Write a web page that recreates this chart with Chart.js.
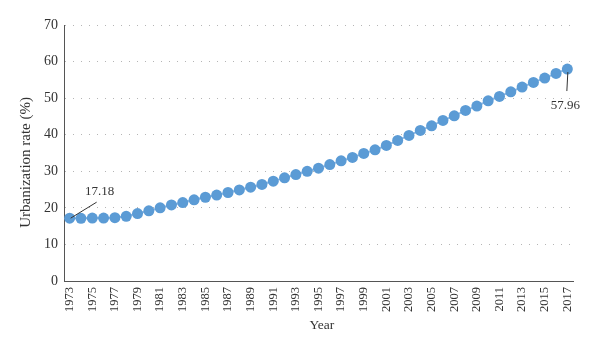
<!DOCTYPE html>
<html>
<head>
<meta charset="utf-8">
<script src="https://cdn.jsdelivr.net/npm/chart.js@4/dist/chart.umd.min.js"></script>
<style>
	html, body { margin: 0; padding: 0; background: #fff; }
</style>
</head>
<body>
<canvas id="urban-rate" width="600" height="351"></canvas>
<script>
const years = [];
for (let y = 1973; y <= 2017; y++) years.push(String(y));

const urbanRate = [
	17.18, 17.15, 17.2, 17.22, 17.3, 17.7, 18.45, 19.2, 20.0, 20.8,
	21.45, 22.2, 22.9, 23.5, 24.2, 24.9, 25.65, 26.4, 27.3, 28.2,
	29.1, 30.0, 30.85, 31.85, 32.85, 33.8, 34.87, 35.86, 37.06, 38.43,
	39.8, 41.17, 42.43, 43.9, 45.17, 46.64, 47.82, 49.28, 50.47, 51.74,
	53.03, 54.3, 55.49, 56.77, 57.96,
];

const yTicks = [0, 10, 20, 30, 40, 50, 60, 70];

// labels shown at the first and last point
const endLabels = ["17.18", "57.96"];

const serif = "'Liberation Serif', 'DejaVu Serif', serif";
const textColor = "#333";

const endLabelPlugin = {
	id: "endLabels",
	afterDatasetsDraw(chart) {
		const pts = chart.getDatasetMeta(0).data;
		const first = pts[0];
		const last = pts[pts.length - 1];
		const ctx = chart.ctx;
		ctx.save();
		ctx.strokeStyle = "#333";
		ctx.lineWidth = 1;
		ctx.beginPath();
		ctx.moveTo(first.x + 1, first.y);
		ctx.lineTo(first.x + 27, first.y - 16);
		ctx.moveTo(last.x + 0.5, last.y + 3);
		ctx.lineTo(last.x - 0.5, last.y + 22);
		ctx.stroke();
		ctx.fillStyle = textColor;
		ctx.font = "13px " + serif;
		ctx.textAlign = "center";
		ctx.textBaseline = "middle";
		ctx.fillText(endLabels[0], first.x + 30, first.y - 27);
		ctx.fillText(endLabels[1], last.x - 2, last.y + 37);
		ctx.restore();
	},
};

new Chart(document.getElementById("urban-rate"), {
	type: "line",
	data: {
		labels: years,
		datasets: [
			{
				data: urbanRate,
				borderColor: "#8db8e4",
				borderWidth: 2,
				backgroundColor: "#5b9bd5",
				pointBackgroundColor: "#5b9bd5",
				pointBorderColor: "#5b9bd5",
				pointRadius: 5.5,
				pointBorderWidth: 0,
				tension: 0,
			},
		],
	},
	options: {
		responsive: false,
		animation: false,
		layout: {
			padding: { top: 25, right: 27, bottom: 0, left: 0 },
		},
		plugins: {
			legend: { display: false },
			tooltip: { enabled: false },
		},
		scales: {
			x: {
				offset: true,
				grid: { display: false, drawTicks: false },
				border: { display: true, color: "#555", width: 1 },
				ticks: {
					autoSkip: false,
					minRotation: 90,
					maxRotation: 90,
					padding: 6,
					color: textColor,
					font: { family: serif, size: 12.5 },
					callback: function (value, index) {
						return index % 2 === 0 ? this.getLabelForValue(value) : "";
					},
				},
				title: {
					display: true,
					text: "\u00a0\u00a0Year",
					color: textColor,
					font: { family: serif, size: 13.5 },
					padding: { top: 0, bottom: 17 },
				},
				afterFit: (scale) => {
					scale.height = 70;
				},
			},
			y: {
				min: 0,
				max: 70,
				afterBuildTicks: (scale) => {
					scale.ticks = yTicks.map((v) => ({ value: v }));
				},
				grid: {
					color: "#b5b5b5",
					lineWidth: 1,
					drawTicks: false,
				},
				border: { display: true, color: "#555", width: 1, dash: [1, 7] },
				ticks: {
					padding: 6,
					color: textColor,
					font: { family: serif, size: 14 },
				},
				title: {
					display: true,
					text: "Urbanization rate (%)\u00a0\u00a0\u00a0\u00a0\u00a0",
					color: textColor,
					font: { family: serif, size: 15 },
					padding: { top: 17, bottom: 0 },
				},
				afterFit: (scale) => {
					scale.width = 64;
				},
			},
		},
	},
	plugins: [endLabelPlugin],
});
</script>
</body>
</html>
